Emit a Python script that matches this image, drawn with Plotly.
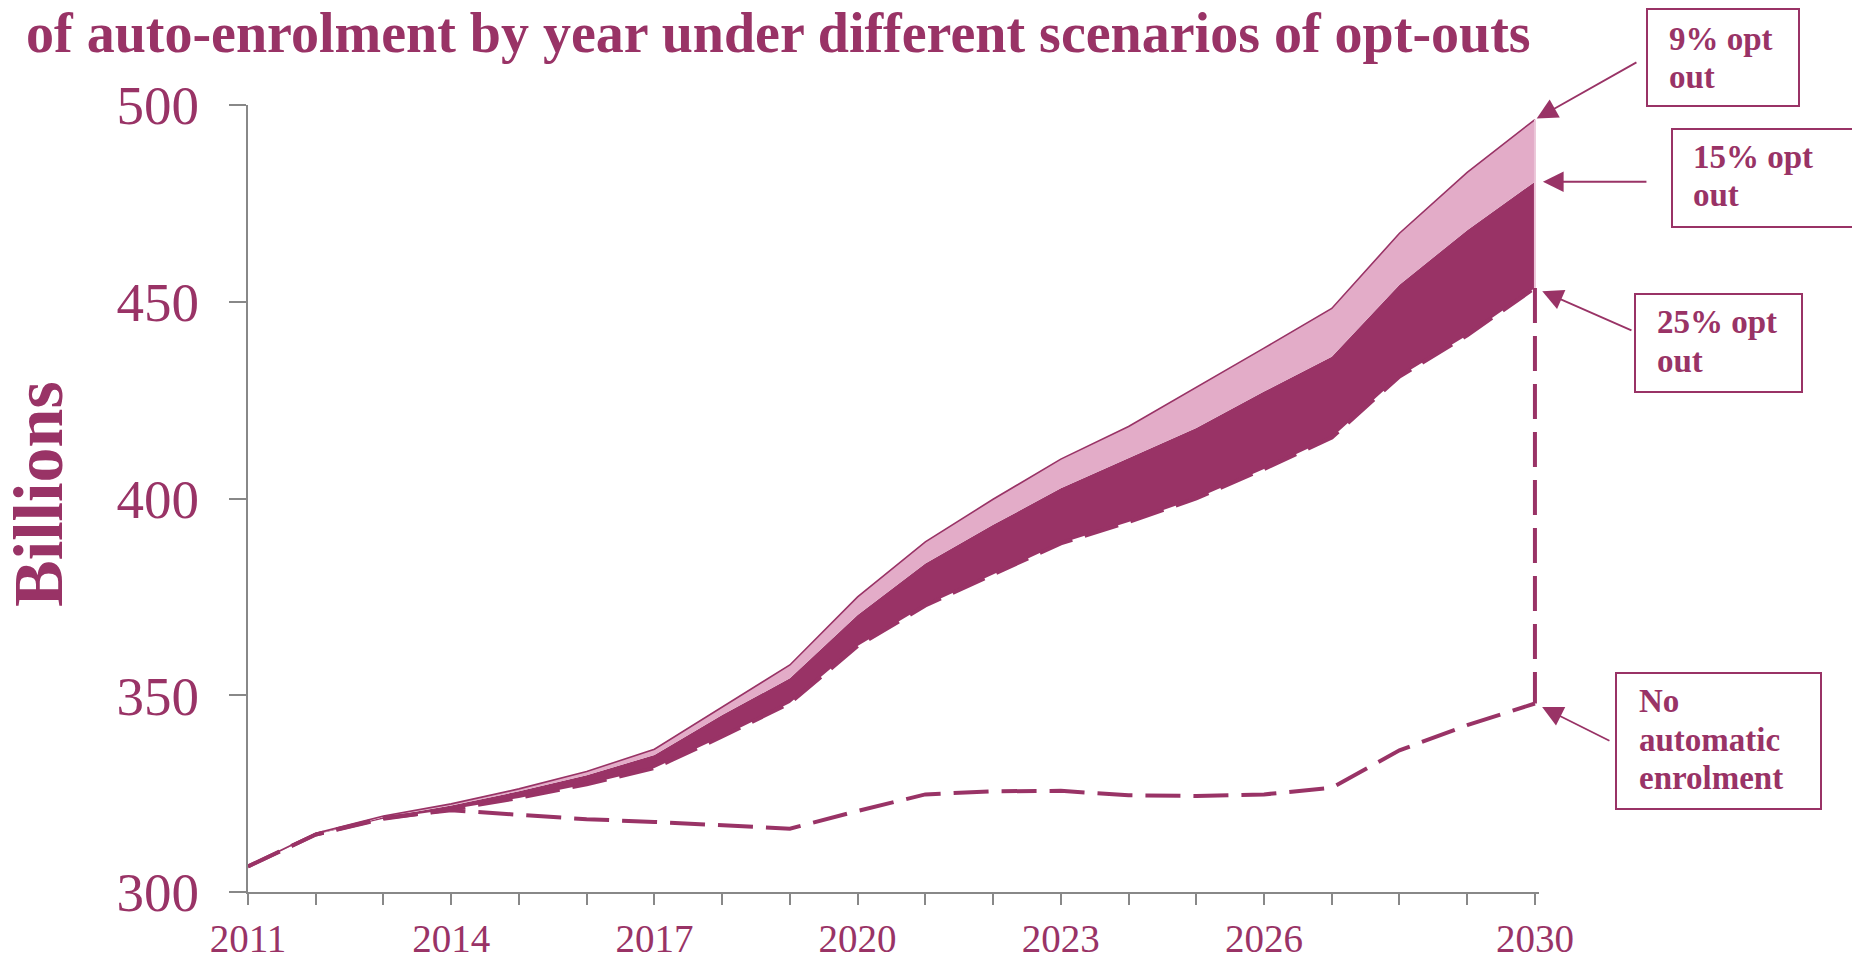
import plotly.graph_objects as go

# ---------------- data ----------------
years = list(range(2011, 2031))
no_auto_enrolment = [306.5, 314.6, 318.8, 320.8, 319.6, 318.5, 317.8, 317.0, 316.1, 320.6,
                     324.8, 325.6, 325.7, 324.6, 324.4, 324.8, 326.5, 336.0, 342.4, 347.9]
opt_out_25 = [306.5, 314.6, 318.6, 321.0, 323.9, 327.4, 331.5, 339.5, 348.0, 362.5,
              372.8, 380.6, 388.6, 394.0, 400.0, 407.5, 415.5, 431.0, 441.5, 453.5]
opt_out_15 = [306.5, 314.7, 319.0, 322.0, 325.6, 329.7, 334.8, 345.0, 354.3, 370.4,
              383.5, 393.3, 402.6, 410.2, 417.9, 427.2, 436.0, 454.3, 468.2, 480.5]
opt_out_9 = [306.5, 314.9, 319.3, 322.4, 326.2, 330.6, 336.3, 347.1, 357.7, 375.0,
             389.0, 399.8, 410.0, 418.3, 428.2, 438.2, 448.3, 467.4, 482.9, 496.3]
x_tick_labels = ["2011", "", "", "2014", "", "", "2017", "", "", "2020",
                 "", "", "2023", "", "", "2026", "", "", "", "2030"]
y_tick_vals = [300, 350, 400, 450, 500]
title_text = "of auto-enrolment by year under different scenarios of opt-outs"
y_title = "Billions"
label_9 = "9% opt<br>out"
label_15 = "15% opt<br>out"
label_25 = "25% opt<br>out"
label_none = "No<br>automatic<br>enrolment"

# ---------------- style ----------------
PLUM = "#993366"
PINK = "#E3ACC8"
AXIS = "#888888"
FONT = "Liberation Serif"
W, H = 1852, 964
L, T = 248, 105
PW = 1291
PH = 787
B = H - T - PH
R = W - L - PW
DASH = "35px,13px"

def px_x(sx):
    return (sx - L) / PW

def px_y(sy):
    return (T + PH - sy) / PH

fig = go.Figure()

# fills
fig.add_trace(go.Scatter(x=years, y=opt_out_25, mode="lines",
                         line=dict(width=0, color=PLUM), hoverinfo="skip"))
fig.add_trace(go.Scatter(x=years, y=opt_out_15, mode="lines", fill="tonexty",
                         fillcolor=PLUM, line=dict(width=0, color=PLUM), hoverinfo="skip"))
fig.add_trace(go.Scatter(x=years, y=opt_out_9, mode="lines", fill="tonexty",
                         fillcolor=PINK, line=dict(width=1.6, color=PLUM), hoverinfo="skip"))
# dashed 25% line on the lower edge
fig.add_trace(go.Scatter(x=years, y=opt_out_25, mode="lines",
                         line=dict(width=4, color=PLUM, dash=DASH), hoverinfo="skip"))
# no automatic enrolment
fig.add_trace(go.Scatter(x=years, y=no_auto_enrolment, mode="lines",
                         line=dict(width=4, color=PLUM, dash=DASH), hoverinfo="skip"))
# right edge lines at final year
fig.add_trace(go.Scatter(x=[years[-1], years[-1]], y=[opt_out_9[-1], opt_out_25[-1]],
                         mode="lines", line=dict(width=2, color="#EBC6D8"), hoverinfo="skip"))
fig.add_trace(go.Scatter(x=[years[-1], years[-1]], y=[opt_out_25[-1], no_auto_enrolment[-1]],
                         mode="lines", line=dict(width=4, color=PLUM, dash=DASH), hoverinfo="skip"))

annotations = []
shapes = []

# title
annotations.append(dict(text=title_text, xref="paper", yref="paper",
                        x=px_x(24), y=px_y(0), xanchor="left", yanchor="top",
                        showarrow=False, font=dict(family=FONT, size=56, color=PLUM, weight="bold")))
# y title
annotations.append(dict(text=y_title, xref="paper", yref="paper",
                        x=px_x(38), y=px_y(494), xanchor="center", yanchor="middle",
                        textangle=-90, showarrow=False,
                        font=dict(family=FONT, size=70, color=PLUM, weight="bold")))

# arrows (head at final-year values)
arrow_specs = [
    (opt_out_9[-1], 103, -58, 2),
    (opt_out_15[-1], 113, 0, 8),
    (opt_out_25[-1], 98, 43, 8),
    (no_auto_enrolment[-1], 76, 38, 8),
]
for yv, ax, ay, so in arrow_specs:
    annotations.append(dict(x=years[-1], y=yv, xref="x", yref="y", text="",
                            showarrow=True, ax=ax, ay=ay, arrowhead=2, arrowsize=2.3,
                            arrowwidth=1.8, arrowcolor=PLUM, standoff=so))

# label boxes: (text, left, top, right, bottom, text-left, first baseline) in screen px
boxes = [
    (label_9, 1647, 9, 1799, 106, 1667, 50),
    (label_15, 1672, 129, 1900, 227, 1691, 168),
    (label_25, 1635, 294, 1802, 392, 1655, 333),
    (label_none, 1616, 673, 1821, 809, 1637, 712),
]
LINE_GAP = 38.5
for txt, x0, y0, x1, y1, tx, base in boxes:
    shapes.append(dict(type="rect", xref="paper", yref="paper",
                       x0=px_x(x0), x1=px_x(x1), y0=px_y(y0), y1=px_y(y1),
                       line=dict(color=PLUM, width=2), fillcolor="white", layer="above"))
    for i, line_txt in enumerate(txt.split("<br>")):
        annotations.append(dict(text=line_txt, xref="paper", yref="paper",
                                x=px_x(tx), y=px_y(base + i * LINE_GAP - 11),
                                xanchor="left", yanchor="middle", align="left", showarrow=False,
                                font=dict(family=FONT, size=33, color=PLUM, weight="bold")))

fig.update_layout(
    width=W, height=H,
    margin=dict(l=L, r=R, t=T, b=B, pad=0),
    paper_bgcolor="white", plot_bgcolor="white",
    showlegend=False,
    annotations=annotations,
    shapes=shapes,
    font=dict(family=FONT, color=PLUM),
    xaxis=dict(range=[2011, 2030.06], tickmode="array", tickvals=years, ticktext=x_tick_labels,
               showline=True, linecolor=AXIS, linewidth=2, ticks="outside", ticklen=11,
               tickcolor=AXIS, tickwidth=1.5, showgrid=False, zeroline=False, automargin=False,
               tickfont=dict(family=FONT, size=39, color=PLUM), ticklabelstandoff=0),
    yaxis=dict(range=[300, 500], tickmode="array", tickvals=y_tick_vals,
               showline=True, linecolor=AXIS, linewidth=2, ticks="outside", ticklen=17,
               tickcolor=AXIS, tickwidth=1.5, showgrid=False, zeroline=False, automargin=False,
               tickfont=dict(family=FONT, size=55, color=PLUM), ticklabelstandoff=19),
)

fig.write_html("out.html", config={"displayModeBar": False},
               post_script="document.body.style.margin='0';")
